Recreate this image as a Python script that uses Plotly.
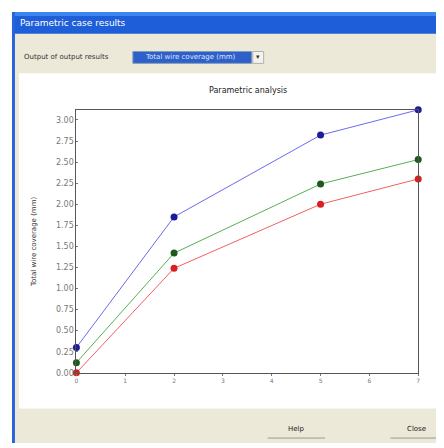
import plotly.graph_objects as go

# ---- data ----
x_values = [0, 2, 5, 7]
series_names = ["Case 1", "Case 2", "Case 3"]
blue_values = [0.30, 1.85, 2.82, 3.12]
green_values = [0.12, 1.42, 2.24, 2.53]
red_values = [0.00, 1.24, 2.00, 2.30]
y_tick_vals = [0.25 * i for i in range(13)]
y_tick_text = ["%.2f" % v for v in y_tick_vals]
x_tick_vals = list(range(8))
x_tick_text = [str(v) for v in x_tick_vals]

OFF = 8  # page body margin
W, H = 444 - OFF, 448 - OFF

def px(x):
    return (x - OFF) / W

def py(y):
    return 1 - (y - OFF) / H

fig = go.Figure()

line_colors = ["#6a6af0", "#55b055", "#f06060"]
marker_colors = ["#1c1c9a", "#1e5a1e", "#d82020"]
for name, vals, lc, mc in zip(series_names, [blue_values, green_values, red_values], line_colors, marker_colors):
    fig.add_trace(go.Scatter(
        x=x_values, y=vals, mode="lines+markers", name=name,
        line=dict(color=lc, width=1),
        marker=dict(color=mc, size=7),
        cliponaxis=False, showlegend=False,
    ))

shapes = []
# window body background
shapes.append(dict(type="rect", xref="paper", yref="paper", x0=px(10), x1=px(444), y0=py(448), y1=py(12),
                   fillcolor="#ECE9D8", line=dict(width=0), layer="below"))
# title bar
shapes.append(dict(type="rect", xref="paper", yref="paper", x0=px(10), x1=px(444), y0=py(34), y1=py(12),
                   fillcolor="#1E5FD9", line=dict(width=0), layer="below"))
shapes.append(dict(type="rect", xref="paper", yref="paper", x0=px(10), x1=px(444), y0=py(16), y1=py(12),
                   fillcolor="#3D86F0", line=dict(width=0), layer="below"))
# left window border
shapes.append(dict(type="rect", xref="paper", yref="paper", x0=px(10), x1=px(13), y0=py(448), y1=py(12),
                   fillcolor="#2A64D8", line=dict(width=0), layer="below"))
# white chart panel
shapes.append(dict(type="rect", xref="paper", yref="paper", x0=px(17), x1=px(440), y0=py(413), y1=py(74),
                   fillcolor="#FFFFFF", line=dict(width=0), layer="below"))
# dropdown
shapes.append(dict(type="rect", xref="paper", yref="paper", x0=px(132), x1=px(252), y0=py(64), y1=py(52),
                   fillcolor="#2F5FC8", line=dict(color="#7F9DB9", width=1), layer="below"))
shapes.append(dict(type="rect", xref="paper", yref="paper", x0=px(253), x1=px(264), y0=py(64), y1=py(52),
                   fillcolor="#F4F2EA", line=dict(color="#B0B0B0", width=1), layer="below"))
# button underlines
shapes.append(dict(type="line", xref="paper", yref="paper", x0=px(268), x1=px(326), y0=py(443), y1=py(443),
                   line=dict(color="#9A9A9A", width=1)))
shapes.append(dict(type="line", xref="paper", yref="paper", x0=px(392), x1=px(440), y0=py(443), y1=py(443),
                   line=dict(color="#9A9A9A", width=1)))

annotations = [
    dict(text="Parametric case results", x=px(16), y=py(23), xref="paper", yref="paper",
         xanchor="left", yanchor="middle", showarrow=False,
         font=dict(family="DejaVu Sans", size=9, color="#FFFFFF")),
    dict(text="Output of output results", x=px(20), y=py(58), xref="paper", yref="paper",
         xanchor="left", yanchor="middle", showarrow=False,
         font=dict(family="DejaVu Sans", size=7, color="#333333")),
    dict(text="Total wire coverage (mm)", x=px(142), y=py(58), xref="paper", yref="paper",
         xanchor="left", yanchor="middle", showarrow=False,
         font=dict(family="DejaVu Sans", size=7, color="#DDE6FF")),
    dict(text="▾", x=px(258.5), y=py(58), xref="paper", yref="paper",
         xanchor="center", yanchor="middle", showarrow=False,
         font=dict(family="DejaVu Sans", size=7, color="#333333")),
    dict(text="Parametric analysis", x=px(248), y=py(91), xref="paper", yref="paper",
         xanchor="center", yanchor="middle", showarrow=False,
         font=dict(family="DejaVu Sans", size=8, color="#222222")),
    dict(text="Total wire coverage (mm)", x=px(33), y=py(244), xref="paper", yref="paper",
         xanchor="center", yanchor="middle", showarrow=False, textangle=-90,
         font=dict(family="DejaVu Sans", size=7, color="#333333")),
    dict(text="Help", x=px(297), y=py(434), xref="paper", yref="paper",
         xanchor="center", yanchor="middle", showarrow=False,
         font=dict(family="DejaVu Sans", size=7, color="#222222")),
    dict(text="Close", x=px(418), y=py(434), xref="paper", yref="paper",
         xanchor="center", yanchor="middle", showarrow=False,
         font=dict(family="DejaVu Sans", size=7, color="#222222")),
]

fig.update_layout(
    width=W, height=H,
    margin=dict(l=0, r=0, t=0, b=0),
    paper_bgcolor="#FFFFFF",
    plot_bgcolor="#FFFFFF",
    shapes=shapes,
    annotations=annotations,
    xaxis=dict(
        domain=[px(75), px(420)], range=[0, 7],
        tickvals=x_tick_vals, ticktext=x_tick_text,
        showgrid=False, zeroline=False,
        showline=True, linecolor="#555555", linewidth=1, mirror=True,
        ticks="outside", ticklen=2, tickcolor="#777777",
        tickfont=dict(family="DejaVu Sans", size=6, color="#777777"),
    ),
    yaxis=dict(
        domain=[py(377), py(111)], range=[0, 3.12],
        tickvals=y_tick_vals, ticktext=y_tick_text,
        showgrid=False, zeroline=False,
        showline=True, linecolor="#555555", linewidth=1, mirror=True,
        ticks="inside", ticklen=2, tickcolor="#777777",
        tickfont=dict(family="DejaVu Sans", size=8, color="#777777"),
    ),
)

fig.write_html("out.html")
